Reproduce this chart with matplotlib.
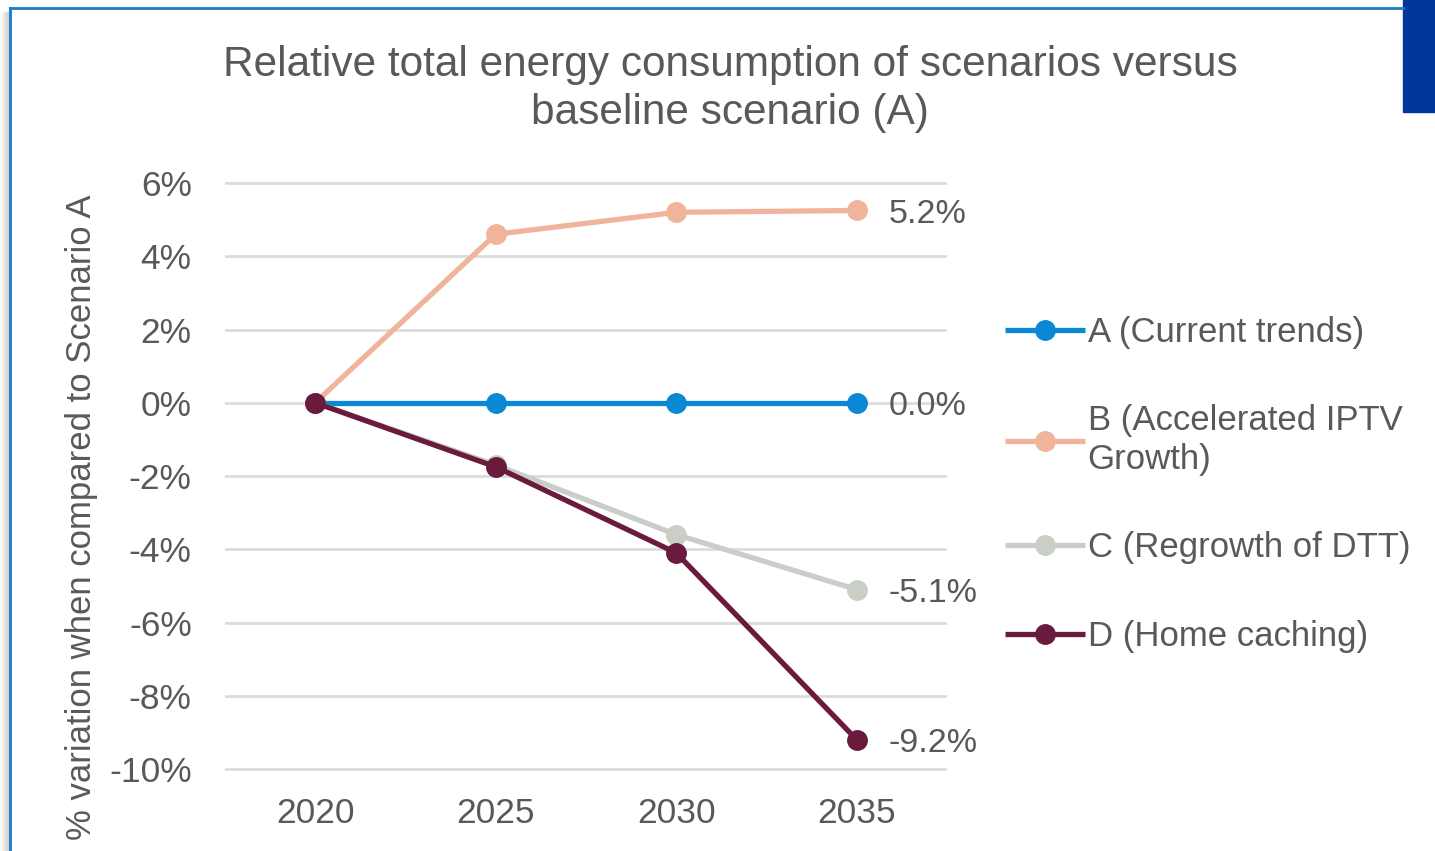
import matplotlib.pyplot as plt
from matplotlib.lines import Line2D
from matplotlib.patches import Rectangle

plt.rcParams['font.family'] = ['Liberation Sans', 'DejaVu Sans']

# Data (percent variation vs scenario A)
years = ['2020', '2025', '2030', '2035']
series_names = ['A (Current trends)', 'B (Accelerated IPTV\nGrowth)',
                'C (Regrowth of DTT)', 'D (Home caching)']
a_vals = [0.0, 0.0, 0.0, 0.0]
b_vals = [0.0, 4.6, 5.2, 5.25]
c_vals = [0.0, -1.7, -3.6, -5.1]
d_vals = [0.0, -1.75, -4.1, -9.2]
end_labels = ['0.0%', '5.2%', '-5.1%', '-9.2%']
yticks = [6, 4, 2, 0, -2, -4, -6, -8, -10]

colors = ['#0A88D4', '#F0B49A', '#C9CFC6', '#6A1A3C']
grey = '#595959'

W, H = 1435, 851
fig = plt.figure(figsize=(W / 100, H / 100), dpi=100)

# plot area
ylo, yhi = -10.05, 6.05
ppu = 586 / 16
bottom = (H - 769 - 0.05 * ppu) / H
height = (16.1 * ppu) / H
ax = fig.add_axes([225 / W, bottom, (947 - 225) / W, height])

x = range(len(years))
all_vals = [a_vals, b_vals, c_vals, d_vals]
order = [1, 2, 0, 3]  # drawing order
for i in order:
    ax.plot(x, all_vals[i], color=colors[i], lw=3.8, marker='o', ms=14,
            label=series_names[i], zorder=3 + i, solid_capstyle='butt')

# end-of-line value labels
for vals, txt in zip([a_vals, b_vals, c_vals, d_vals], end_labels):
    ax.annotate(txt, (3, vals[-1]), xytext=(23, -3), textcoords='offset points',
                va='center', ha='left', fontsize=24.5, color=grey)

ax.set_xlim(-0.5, 3.5)
ax.set_ylim(ylo, yhi)
ax.set_xticks(list(x))
ax.set_xticklabels(years)
ax.set_yticks(yticks)
ax.set_yticklabels([f'{v}%' for v in yticks])
ax.tick_params(axis='both', length=0, labelsize=25.5, colors=grey)
ax.tick_params(axis='x', pad=19)
ax.tick_params(axis='y', pad=24)
ax.grid(axis='y', color='#DCDCDC', lw=2)
ax.set_axisbelow(True)
for s in ax.spines.values():
    s.set_visible(False)

# legend
handles, labels = ax.get_legend_handles_labels()
hmap = dict(zip(labels, handles))
ax.legend([hmap[n] for n in series_names], series_names,
          loc='upper left', bbox_to_anchor=(1.061, 0.795), frameon=False,
          fontsize=25, labelcolor=grey, handlelength=2.3, handletextpad=0.08,
          labelspacing=1.6, borderaxespad=0)

# title and y label
fig.text(730 / W, 1 - 89 / H,
         'Relative total energy consumption of scenarios versus\nbaseline scenario (A)',
         ha='center', va='center', fontsize=30.5, color=grey, linespacing=1.28)
fig.text(82 / W, 1 - 517 / H, '% variation when compared to Scenario A',
         rotation=90, ha='center', va='center', fontsize=25, color=grey)

# frame decorations: shadow, blue border, corner block
for k in range(9):
    xx = (1 + k) / W
    fig.add_artist(Line2D([xx, xx], [0, 1 - 12 / H], color='#909090',
                          lw=1, alpha=0.03 + 0.04 * k))
fig.add_artist(Line2D([10 / W, 10 / W], [0, 1 - 8 / H], color='#1A7BC9', lw=2))
fig.add_artist(Line2D([10 / W, 1403 / W], [1 - 8 / H, 1 - 8 / H], color='#1A7BC9', lw=2))
fig.add_artist(Rectangle((1403 / W, 1 - 112 / H), 32 / W, 112 / H,
                         color='#00379A', transform=fig.transFigure))

fig.savefig('out.png', dpi=100)
